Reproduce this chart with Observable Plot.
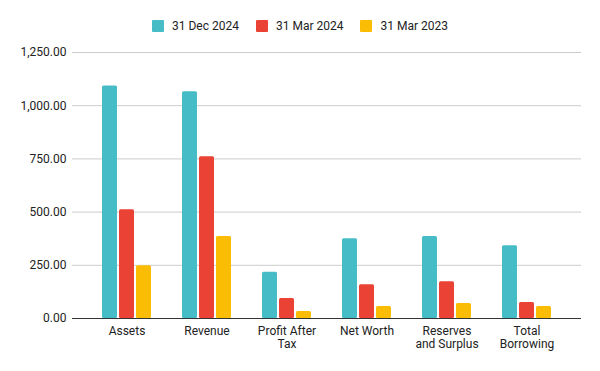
<!DOCTYPE html>
<html><head><meta charset="utf-8">
<script src="https://cdn.jsdelivr.net/npm/d3@7"></script>
<script src="https://cdn.jsdelivr.net/npm/@observablehq/plot@0.6"></script>
<style>
body{margin:0;background:#fff;font-family:Roboto,Arial,sans-serif;}
#legend{height:40px;display:flex;justify-content:center;align-items:center;padding-top:12px;box-sizing:border-box;font-size:12px;color:#222;gap:17px;}
#legend .it{display:flex;align-items:center;}
#legend .sw{width:12px;height:12px;border-radius:1px;margin-right:8px;}
</style>
</head><body>
<div id="legend"></div>
<div id="chart"></div>
<script>
const categories = ["Assets","Revenue","Profit After\nTax","Net Worth","Reserves\nand Surplus","Total\nBorrowing"];
const series = ["31 Dec 2024","31 Mar 2024","31 Mar 2023"];
const colors = ["#46BDC6","#EA4335","#FBBC04"];
const dec2024 = [1093, 1065, 217, 375, 385, 342];
const mar2024 = [511, 760, 94, 159, 173, 75];
const mar2023 = [248, 385, 33, 56, 70, 56];
const yTicks = [0, 250, 500, 750, 1000, 1250];

const values = [dec2024, mar2024, mar2023];
const offsets = [-17, 0, 17];

const legend = document.getElementById("legend");
series.forEach((s, j) => {
  const it = document.createElement("div"); it.className = "it";
  const sw = document.createElement("div"); sw.className = "sw"; sw.style.background = colors[j];
  const t = document.createElement("span"); t.textContent = s;
  it.appendChild(sw); it.appendChild(t); legend.appendChild(it);
});

const barMarks = series.map((s, j) => Plot.barY(
  categories.map((c, i) => ({cat: c, series: s, value: values[j][i]})),
  {x: "cat", y: "value", fill: "series", dx: offsets[j], rx: 1.5}
));

const chart = Plot.plot({
  width: 600, height: 331,
  marginTop: 12, marginBottom: 53, marginLeft: 72, marginRight: 19,
  style: {fontFamily: "Roboto, Arial, sans-serif", fontSize: "12px", color: "#222", background: "#fff"},
  x: {domain: categories, paddingInner: 0.8125, paddingOuter: 0.5875, label: null},
  y: {domain: [0, 1250], label: null},
  color: {domain: series, range: colors},
  marks: [
    Plot.gridY(yTicks, {stroke: "#ccc", strokeOpacity: 1}),
    Plot.axisY(yTicks, {tickSize: 0, tickPadding: 6, tickFormat: d3.format(",.2f"), label: null, fill: "#222"}),
    Plot.axisX({anchor: "bottom", tickSize: 0, tickPadding: 7, label: null, lineHeight: 1.1, fill: "#222"}),
    ...barMarks,
    Plot.ruleY([0], {stroke: "#333", strokeWidth: 1.2})
  ]
});
document.getElementById("chart").appendChild(chart);
</script>
</body></html>
